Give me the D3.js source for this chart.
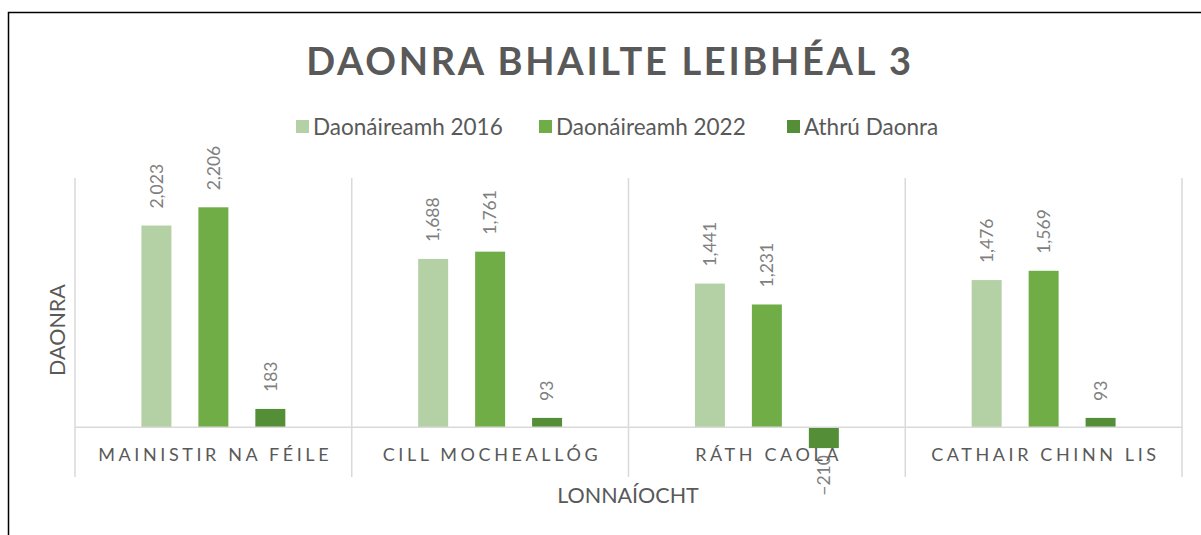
<!DOCTYPE html>
<html>
<head>
<meta charset="utf-8">
<script src="https://cdn.jsdelivr.net/npm/d3@7"></script>
<style>
  html, body { margin: 0; padding: 0; background: #fff; }
  svg { display: block; }
  text { font-family: Lato, sans-serif; }
</style>
</head>
<body>
<svg id="chart" width="1201" height="535"></svg>
<script>
const categories = ["MAINISTIR NA FÉILE", "CILL MOCHEALLÓG", "RÁTH CAOLA", "CATHAIR CHINN LIS"];
const seriesNames = ["Daonáireamh 2016", "Daonáireamh 2022", "Athrú Daonra"];
const census2016 = [2023, 1688, 1441, 1476];
const census2022 = [2206, 1761, 1231, 1569];
const popChange = [183, 93, -210, 93];
const seriesColors = ["#B4D0A5", "#70AD47", "#548E37"];
const titleText = "DAONRA BHAILTE LEIBHÉAL 3";
const yTitle = "DAONRA";
const xTitle = "LONNAÍOCHT";

const seriesValues = [census2016, census2022, popChange];
const data = categories.map((c, i) => ({
  cat: c,
  vals: seriesNames.map((s, j) => ({ s, j, v: seriesValues[j][i] }))
}));

const svg = d3.select("#chart");

// outer chart border (top and left visible)
svg.append("rect").attr("x", 8.5).attr("y", 12.5).attr("width", 1210).attr("height", 540)
  .attr("fill", "none").attr("stroke", "#000").attr("stroke-width", 1.5);

const plot = { left: 75, right: 1182, top: 178, bottom: 477 };

const x0 = d3.scaleBand().domain(categories).range([plot.left, plot.right]).padding(0);
const groupW = x0.bandwidth() * 0.52;
const x1 = d3.scaleBand().domain(seriesNames)
  .range([(x0.bandwidth() - groupW) / 2, (x0.bandwidth() + groupW) / 2])
  .paddingInner(27 / 57).paddingOuter(0);
const y = d3.scaleLinear().domain([-500, 2500]).range([plot.bottom, plot.top]);

// category separators (vertical lines)
const seps = categories.map((c) => x0(c)).concat([plot.right]);
svg.append("g").selectAll("line").data(seps).join("line")
  .attr("x1", d => d).attr("x2", d => d)
  .attr("y1", plot.top).attr("y2", plot.bottom)
  .attr("stroke", "#D9D9D9").attr("stroke-width", 1.5);

// bars
const groups = svg.append("g").selectAll("g").data(data).join("g")
  .attr("transform", d => `translate(${x0(d.cat)},0)`);

groups.selectAll("rect").data(d => d.vals).join("rect")
  .attr("x", d => x1(d.s))
  .attr("width", x1.bandwidth())
  .attr("y", d => Math.min(y(d.v), y(0)))
  .attr("height", d => Math.abs(y(d.v) - y(0)))
  .attr("fill", d => seriesColors[d.j]);

// zero baseline
svg.append("line").attr("x1", plot.left).attr("x2", plot.right)
  .attr("y1", y(0)).attr("y2", y(0))
  .attr("stroke", "#D9D9D9").attr("stroke-width", 1.5);

// data labels
const fmt = d3.format(",");
groups.selectAll("text.lbl").data(d => d.vals).join("text")
  .attr("class", "lbl")
  .attr("transform", d => {
    const cx = x1(d.s) + x1.bandwidth() / 2;
    const yy = d.v >= 0 ? y(d.v) - 17 : y(d.v) + 7;
    return `translate(${cx},${yy}) rotate(-90)`;
  })
  .attr("text-anchor", d => d.v >= 0 ? "start" : "end")
  .attr("dy", "0.36em")
  .attr("font-size", 17.5)
  .attr("fill", "#7F7F7F")
  .text(d => fmt(d.v));

// category labels
svg.append("g").selectAll("text").data(categories).join("text")
  .attr("x", d => x0(d) + x0.bandwidth() / 2 + 1.8)
  .attr("y", 461)
  .attr("text-anchor", "middle")
  .attr("font-size", 18)
  .attr("letter-spacing", "3.6px")
  .attr("fill", "#595959")
  .text(d => d);

// title
svg.append("text").attr("x", 610).attr("y", 75)
  .attr("text-anchor", "middle")
  .attr("font-size", 38).attr("font-weight", "bold")
  .attr("letter-spacing", "2.7px")
  .attr("fill", "#595959")
  .text(titleText);

// legend
const legendX = [296, 539, 787];
const legend = svg.append("g").selectAll("g").data(seriesNames).join("g")
  .attr("transform", (d, i) => `translate(${legendX[i]},120)`);
legend.append("rect").attr("width", 13).attr("height", 13)
  .attr("fill", (d, i) => seriesColors[i]);
legend.append("text").attr("x", 17).attr("y", 14.5)
  .attr("font-size", 22.5).attr("fill", "#595959")
  .text(d => d);

// axis titles
svg.append("text")
  .attr("transform", "translate(65,330) rotate(-90)")
  .attr("text-anchor", "middle")
  .attr("font-size", 21.5).attr("fill", "#595959")
  .text(yTitle);
svg.append("text").attr("x", 628).attr("y", 503)
  .attr("text-anchor", "middle")
  .attr("font-size", 21.5).attr("fill", "#595959")
  .text(xTitle);
</script>
</body>
</html>
